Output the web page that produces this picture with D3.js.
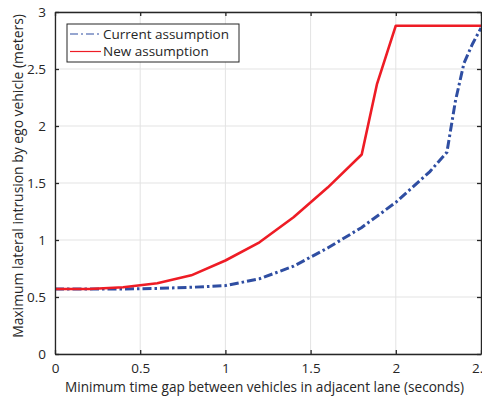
<!DOCTYPE html>
<html>
<head>
<meta charset="utf-8">
<script src="https://cdn.jsdelivr.net/npm/d3@7"></script>
<style>
  body { margin: 0; background: #fff; }
  text { font-family: "Open Sans", "Noto Sans", sans-serif; }
</style>
</head>
<body>
<div id="chart"></div>
<script>
// Data
const gapCurrent = [0, 0.2, 0.4, 0.6, 0.8, 1.0, 1.2, 1.4, 1.6, 1.8, 2.0, 2.2, 2.3, 2.35, 2.4, 2.45, 2.5];
const intrusionCurrent = [0.57, 0.57, 0.57, 0.575, 0.585, 0.6, 0.66, 0.77, 0.93, 1.11, 1.33, 1.6, 1.77, 2.22, 2.55, 2.72, 2.86];
const gapNew = [0, 0.2, 0.4, 0.6, 0.8, 1.0, 1.2, 1.4, 1.6, 1.8, 1.89, 2.0, 2.5];
const intrusionNew = [0.57, 0.57, 0.585, 0.62, 0.69, 0.82, 0.98, 1.2, 1.46, 1.75, 2.37, 2.88, 2.88];
const xTicks = [0, 0.5, 1, 1.5, 2, 2.5];
const yTicks = [0, 0.5, 1, 1.5, 2, 2.5, 3];
const seriesNames = ["Current assumption", "New assumption"];

const W = 482, H = 399;
const margin = { top: 12, right: 1, bottom: 45, left: 55 };
const width = W - margin.left - margin.right;
const height = H - margin.top - margin.bottom;

const svg = d3.select("#chart")
  .append("svg")
  .attr("width", W)
  .attr("height", H);

const g = svg.append("g")
  .attr("transform", `translate(${margin.left}, ${margin.top})`);

const x = d3.scaleLinear().domain([0, 2.5]).range([0, width]);
const y = d3.scaleLinear().domain([0, 3]).range([height, 0]);

const axisColor = "#262626";
const gridColor = "#e3e3e3";

// Grid
g.append("g").selectAll("line")
  .data(xTicks)
  .enter().append("line")
  .attr("x1", d => x(d)).attr("x2", d => x(d))
  .attr("y1", 0).attr("y2", height)
  .attr("stroke", gridColor).attr("stroke-width", 1);

g.append("g").selectAll("line")
  .data(yTicks)
  .enter().append("line")
  .attr("x1", 0).attr("x2", width)
  .attr("y1", d => y(d)).attr("y2", d => y(d))
  .attr("stroke", gridColor).attr("stroke-width", 1);

// Lines
const lineGen = (xs, ys) => d3.line()
  .x((d, i) => x(xs[i]))
  .y((d, i) => y(ys[i]))(xs);

g.append("path")
  .attr("d", lineGen(gapCurrent, intrusionCurrent))
  .attr("fill", "none")
  .attr("stroke", "#2f4ea2")
  .attr("stroke-width", 3)
  .attr("stroke-dasharray", "9,3,2.5,3");

g.append("path")
  .attr("d", lineGen(gapNew, intrusionNew))
  .attr("fill", "none")
  .attr("stroke", "#ee1c25")
  .attr("stroke-width", 2.6)
  .attr("stroke-linejoin", "round");

// Axes (box with inward ticks)
const styleAxis = sel => {
  sel.select(".domain").attr("stroke", axisColor).attr("stroke-width", 1.3);
  sel.selectAll(".tick line").attr("stroke", axisColor).attr("stroke-width", 1.3);
  sel.selectAll(".tick text").attr("fill", axisColor)
    .style("font-family", "'Open Sans', sans-serif").style("font-size", "13.5px");
};

g.append("g")
  .attr("transform", `translate(0, ${height})`)
  .call(d3.axisBottom(x).tickValues(xTicks).tickSizeInner(-4).tickSizeOuter(0).tickPadding(9)
    .tickFormat(d => String(d)))
  .call(styleAxis);

g.append("g")
  .call(d3.axisTop(x).tickValues(xTicks).tickSizeInner(-4).tickSizeOuter(0).tickFormat(""))
  .call(styleAxis);

g.append("g")
  .call(d3.axisLeft(y).tickValues(yTicks).tickSizeInner(-4).tickSizeOuter(0).tickPadding(9)
    .tickFormat(d => String(d)))
  .call(styleAxis);

g.append("g")
  .attr("transform", `translate(${width}, 0)`)
  .call(d3.axisRight(y).tickValues(yTicks).tickSizeInner(-4).tickSizeOuter(0).tickFormat(""))
  .call(styleAxis);

// Axis labels
svg.append("text")
  .attr("x", 264.5)
  .attr("y", 392)
  .attr("text-anchor", "middle")
  .attr("fill", axisColor)
  .style("font-size", "13.6px")
  .text("Minimum time gap between vehicles in adjacent lane (seconds)");

svg.append("text")
  .attr("transform", "translate(22.5, 176) rotate(-90)")
  .attr("text-anchor", "middle")
  .attr("fill", axisColor)
  .style("font-size", "13.9px")
  .text("Maximum lateral intrusion by ego vehicle (meters)");

// Legend
const legend = g.append("g").attr("transform", "translate(12, 12)");
legend.append("rect")
  .attr("width", 172).attr("height", 38)
  .attr("fill", "#fff")
  .attr("stroke", axisColor).attr("stroke-width", 1);

const legendStyles = [
  { color: "#2f4ea2", dash: "8,3,2,3" },
  { color: "#ee1c25", dash: null }
];

seriesNames.forEach((name, i) => {
  const row = legend.append("g").attr("transform", `translate(0, ${10 + i * 17.5})`);
  row.append("line")
    .attr("x1", 3).attr("x2", 34)
    .attr("stroke", legendStyles[i].color)
    .attr("stroke-width", 1.2)
    .attr("stroke-dasharray", legendStyles[i].dash);
  row.append("text")
    .attr("x", 36).attr("y", 4.6)
    .attr("fill", axisColor)
    .style("font-size", "13.5px")
    .text(name);
});
</script>
</body>
</html>
